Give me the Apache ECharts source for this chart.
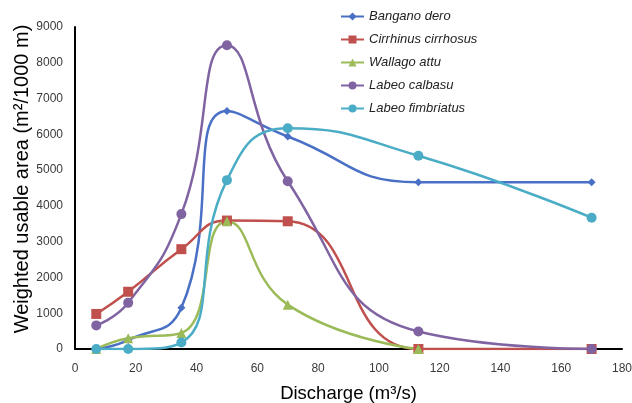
<!DOCTYPE html>
<html>
<head>
<meta charset="utf-8">
<script src="https://cdn.jsdelivr.net/npm/echarts@6/dist/echarts.min.js"></script>
<style>
  html, body {margin: 0; padding: 0; background: #fff;}
  #main {width: 632px; height: 403px;}
</style>
</head>
<body>
<div id="main"></div>
<script>
// discharge values (m3/s)
const discharge = [7, 17.5, 35, 50, 70, 113, 170];
// weighted usable area per species
const banganoDero = [0, 250, 1150, 6650, 5940, 4660, 4660];
const cirrhinus = [980, 1600, 2790, 3590, 3570, 0, 0];
const wallagoAttu = [0, 300, 450, 3570, 1240, 0];
const labeoCalbasu = [660, 1290, 3770, 8490, 4690, 490, 0];
const labeoFimbriatus = [0, 0, 180, 4720, 6170, 5400, 3670];

const names = ['Bangano dero', 'Cirrhinus cirrhosus', 'Wallago attu', 'Labeo calbasu', 'Labeo fimbriatus'];
const values = [banganoDero, cirrhinus, wallagoAttu, labeoCalbasu, labeoFimbriatus];
const colors = ['#4a70c5', '#c0504d', '#9bbb59', '#8064a2', '#4bacc6'];
const symbols = ['diamond', 'rect', 'triangle', 'circle', 'circle'];
const symbolSizes = [8, 10, 10, 10, 10];

const myChart = echarts.init(document.getElementById('main'));

const series = names.map((n, i) => ({
  name: n,
  type: 'line',
  smooth: 0.5,
  data: values[i].map((v, j) => [discharge[j], v]),
  symbol: symbols[i],
  symbolSize: symbolSizes[i],
  showAllSymbol: true,
  lineStyle: {color: colors[i], width: 2.5},
  itemStyle: {color: colors[i]},
}));

myChart.setOption({
  animation: false,
  textStyle: {fontFamily: 'Liberation Sans'},
  grid: {left: 75, right: 10, top: 27, bottom: 54, outerBoundsMode: 'none'},
  legend: {
    orient: 'vertical',
    left: 335,
    top: 5,
    itemGap: 10,
    itemWidth: 23,
    itemHeight: 10,
    textStyle: {fontStyle: 'italic', fontSize: 13, color: '#222', fontFamily: 'Liberation Sans'},
    data: names,
  },
  xAxis: {
    type: 'value',
    min: 0,
    max: 180,
    interval: 20,
    name: 'Discharge (m³/s)',
    nameLocation: 'middle',
    nameGap: 35,
    nameMoveOverlap: false,
    nameTextStyle: {fontSize: 18.5, color: '#000'},
    splitLine: {show: false},
    axisTick: {show: false},
    axisLine: {lineStyle: {color: '#000', width: 2}},
    axisLabel: {fontSize: 12, color: '#3a3a3a', margin: 14},
  },
  yAxis: {
    type: 'value',
    min: 0,
    max: 9000,
    interval: 1000,
    name: 'Weighted usable area (m²/1000 m)',
    nameLocation: 'middle',
    nameGap: 43,
    nameMoveOverlap: false,
    nameTextStyle: {fontSize: 20, color: '#000', padding: [0, 0, 0, 18]},
    splitLine: {show: false},
    axisTick: {show: false},
    axisLine: {show: true, lineStyle: {color: '#000', width: 2}},
    axisLabel: {fontSize: 12, color: '#3a3a3a', margin: 12, formatter: v => String(v)},
  },
  series: series,
});
</script>
</body>
</html>
